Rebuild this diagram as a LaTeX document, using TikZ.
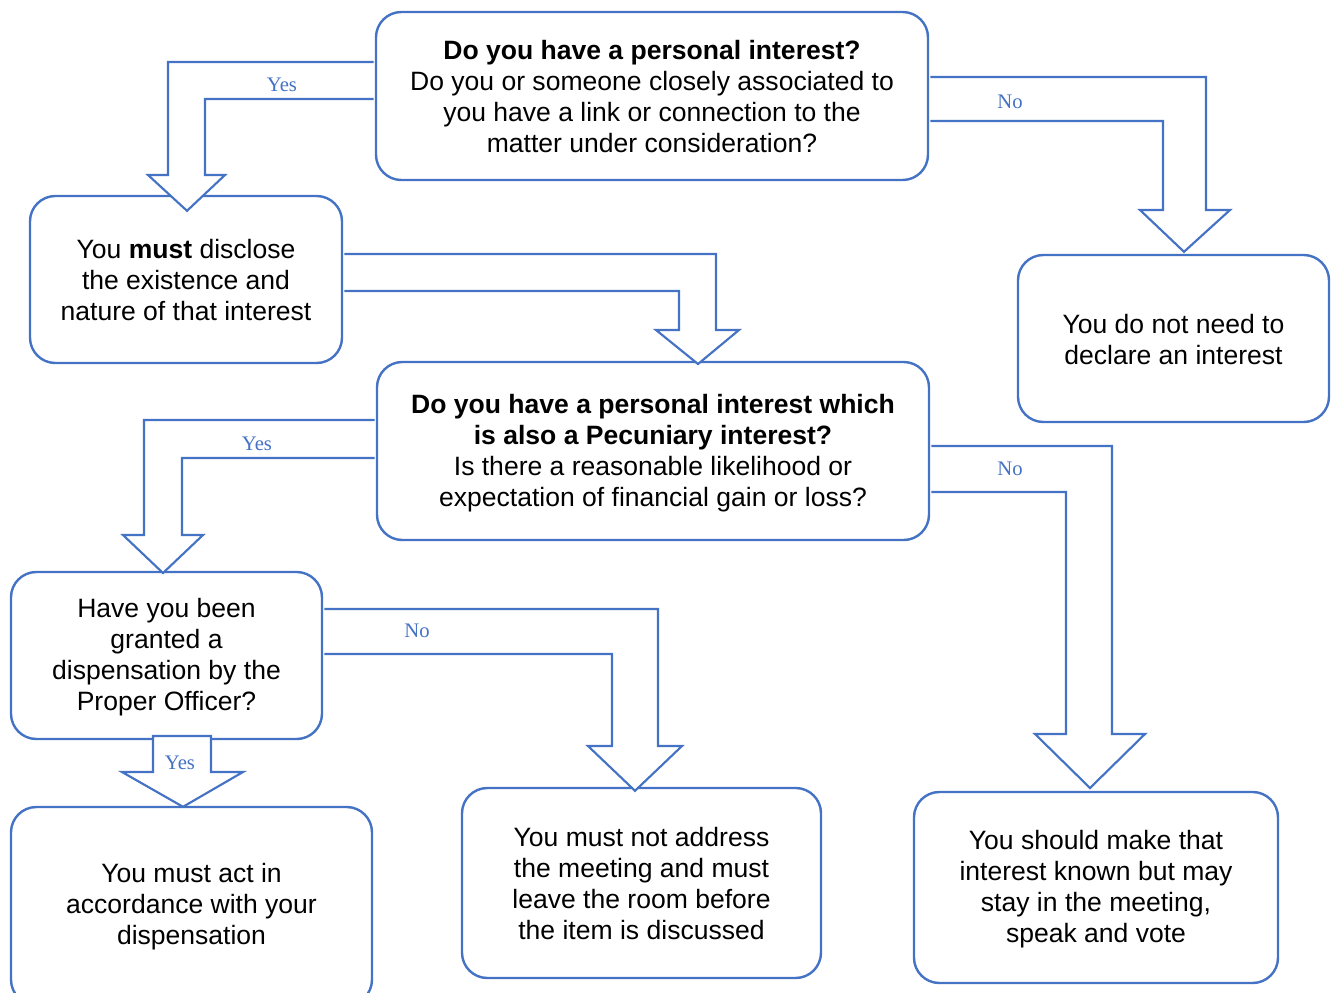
\documentclass[tikz,border=0pt]{standalone}
\usepackage{fontspec}
\setmainfont{Liberation Sans}
\newfontfamily\serifl{Liberation Serif}
\usetikzlibrary{calc}
\definecolor{bblue}{RGB}{68,114,196}
\begin{document}
\begin{tikzpicture}[x=0.75pt,y=-0.75pt,
  box/.style={draw=bblue, line width=1.8pt, rounded corners=19pt, align=center, inner sep=0pt,
              font=\fontsize{19.9}{23.25}\selectfont},
  txt/.style={align=center, inner sep=0pt, font=\fontsize{19.9}{23.25}\selectfont},
  barrow/.style={draw=bblue, line width=1.6pt, fill=white, line join=miter},
  lbl/.style={text=bblue, font=\serifl\fontsize{15.5}{18}\selectfont, inner sep=0pt}]
\useasboundingbox (0,0) rectangle (1336,993);

% boxes
\node[box, minimum width=552*0.75pt, minimum height=168*0.75pt] (q1) at (652,96) {};
\node[txt] (q1t) at ($(q1.center)+(0,1)$)
  {\textbf{Do you have a personal interest?}\\Do you or someone closely associated to\\you have a link or connection to the\\matter under consideration?};
\node[box, minimum width=312*0.75pt, minimum height=167*0.75pt] (d1) at (186,279.5) {};
\node[txt] (d1t) at ($(d1.center)+(0,1)$)
  {You \textbf{must} disclose\\the existence and\\nature of that interest};
\node[box, minimum width=311*0.75pt, minimum height=167*0.75pt] (n1) at (1173.5,338.5) {};
\node[txt] (n1t) at ($(n1.center)+(0,1)$)
  {You do not need to\\declare an interest};
\node[box, minimum width=552*0.75pt, minimum height=178*0.75pt] (q2) at (653,451) {};
\node[txt] (q2t) at ($(q2.center)+(0,2)$)
  {\textbf{Do you have a personal interest which}\\\textbf{is also a Pecuniary interest?}\\Is there a reasonable likelihood or\\expectation of financial gain or loss?};
\node[box, minimum width=311*0.75pt, minimum height=167*0.75pt] (q3) at (166.5,655.5) {};
\node[txt] (q3t) at ($(q3.center)+(0,2)$)
  {Have you been\\granted a\\dispensation by the\\Proper Officer?};
\node[box, minimum width=361*0.75pt, minimum height=198*0.75pt] (a1) at (191.5,906) {};
\node[txt] (a1t) at ($(a1.center)+(0,1)$)
  {You must act in\\accordance with your\\dispensation};
\node[box, minimum width=359*0.75pt, minimum height=190*0.75pt] (m1) at (641.5,883) {};
\node[txt] (m1t) at ($(m1.center)+(0,1)$)
  {You must not address\\the meeting and must\\leave the room before\\the item is discussed};
\node[box, minimum width=364*0.75pt, minimum height=191*0.75pt] (s1) at (1096,887.5) {};
\node[txt] (s1t) at ($(s1.center)+(0,1.5)$)
  {You should make that\\interest known but may\\stay in the meeting,\\speak and vote};

% block arrows
% q1 -> d1 (Yes)
\draw[barrow] ($(q1.west|-0,62)+(-1.2,0)$) -- (168,62) -- (168,175) -- (148,175)
  -- ($(d1.north)+(1,16)$) -- (225,175) -- (205,175) -- (205,99) -- ($(q1.west|-0,99)+(-1.2,0)$);
\node[lbl] (y1) at (282,85) {Yes};

% q1 -> n1 (No)
\draw[barrow] ($(q1.east|-0,77)+(1.2,0)$) -- (1206,77) -- (1206,210) -- (1230,210)
  -- ($(n1.north)+(10.5,-2)$) -- (1140,210) -- (1163,210) -- (1163,121) -- ($(q1.east|-0,121)+(1.2,0)$);
\node[lbl] (no1) at (1010,102) {No};

% d1 -> q2
\draw[barrow] ($(d1.east|-0,254)+(1.2,0)$) -- (716,254) -- (716,330) -- (739,330)
  -- (698,364) -- (656,330) -- (679,330) -- (679,291) -- ($(d1.east|-0,291)+(1.2,0)$);

% q2 -> q3 (Yes)
\draw[barrow] ($(q2.west|-0,420)+(-1.2,0)$) -- (144,420) -- (144,535) -- (123,535)
  -- (163,573) -- (203,535) -- (182,535) -- (182,458) -- ($(q2.west|-0,458)+(-1.2,0)$);
\node[lbl] (y2) at (257,444) {Yes};

% q2 -> s1 (No)
\draw[barrow] ($(q2.east|-0,446)+(1.2,0)$) -- (1112,446) -- (1112,734) -- (1145,734)
  -- (1090,788) -- (1035,734) -- (1066,734) -- (1066,492) -- ($(q2.east|-0,492)+(1.2,0)$);
\node[lbl] (no2) at (1010,469) {No};

% q3 -> m1 (No)
\draw[barrow] ($(q3.east|-0,609)+(1.2,0)$) -- (658,609) -- (658,746) -- (682,746)
  -- ($(m1.north)+(-6.5,4)$) -- (588,746) -- (612,746) -- (612,654) -- ($(q3.east|-0,654)+(1.2,0)$);
\node[lbl] (no3) at (417,631) {No};

% q3 -> a1 (Yes)
\draw[barrow] (153,736) -- (153,772) -- (122,772) -- ($(a1.north)+(-8.5,1)$)
  -- (243,772) -- (211,772) -- (211,736) -- cycle;
\node[lbl] (y3) at (180,763) {Yes};
\end{tikzpicture}
\end{document}
